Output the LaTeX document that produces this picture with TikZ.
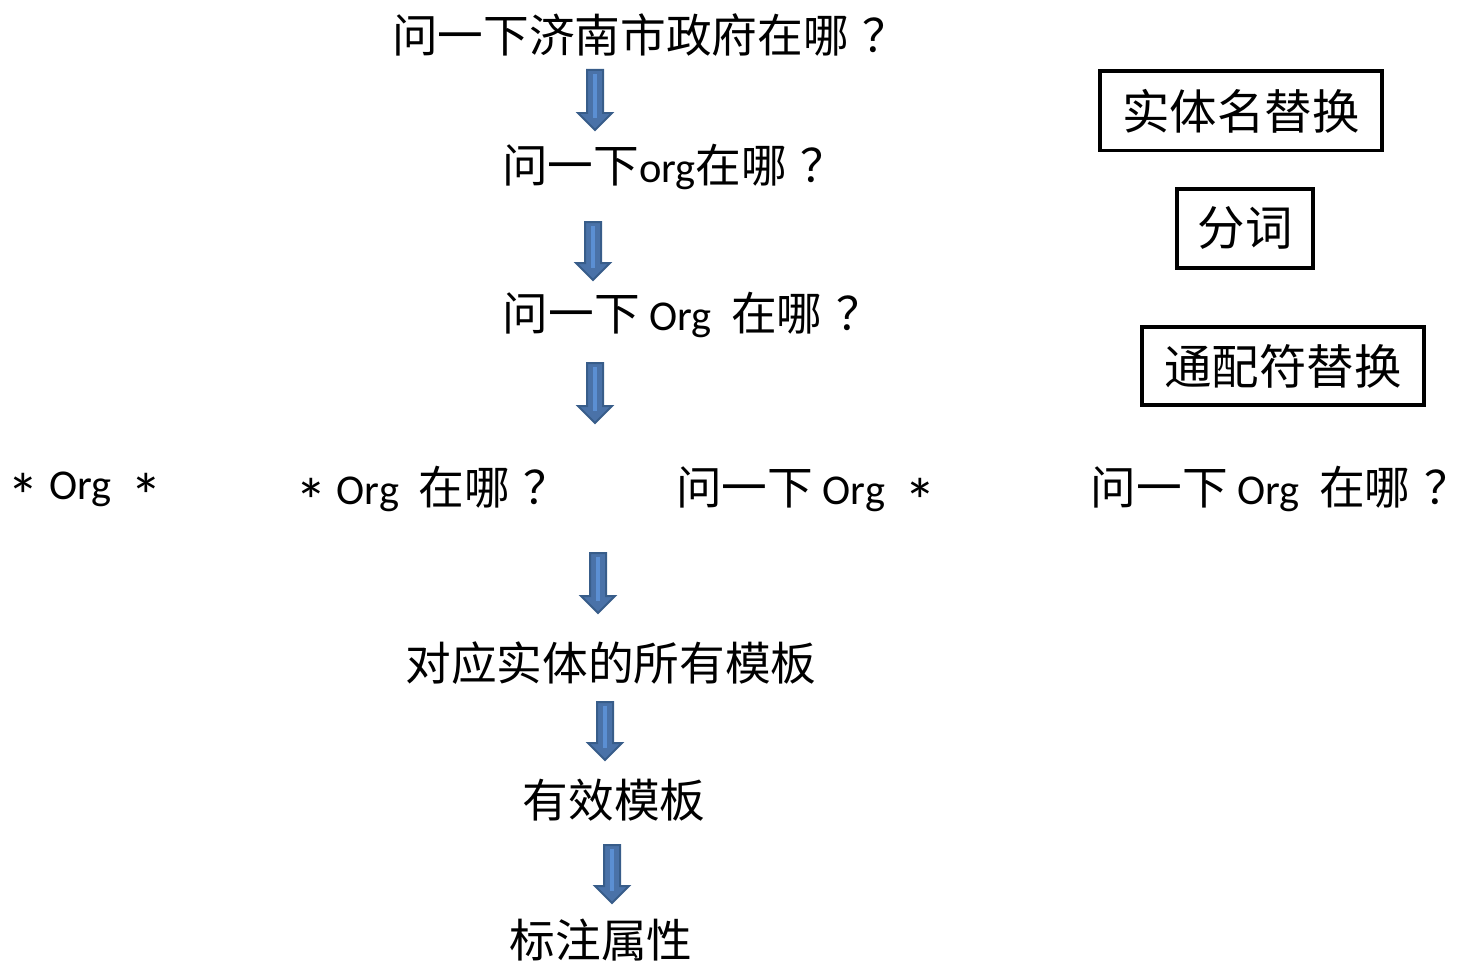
\documentclass[tikz,border=0pt]{standalone}
\usepackage{fontspec}
\setmainfont{Carlito}[Scale=0.93]
\newfontfamily\cjk{Noto Sans CJK SC}
\usepackage{graphicx}
\usepackage{tikz}
\usetikzlibrary{calc}

\definecolor{ArrowEdge}{HTML}{385D8A}
\definecolor{ArrowFill}{HTML}{4A72A8}
\definecolor{ArrowLight}{HTML}{5B8FD3}

\newcommand{\wild}{\smash{\raisebox{-0.45em}{\scalebox{1.5}{*}}}}
\newcommand{\qm}{{\cjk\kern0.3em\makebox[0.55em][l]{？}}}

\newcommand{\flowarrow}[2]{%
  \filldraw[fill=ArrowFill, draw=ArrowEdge, line width=0.04cm, line join=miter]
    ($(#1)+(-8,0)$) -- ($(#1)+(8,0)$) -- ($(#2)+(8,-17)$) -- ($(#2)+(17,-17)$)
    -- (#2) -- ($(#2)+(-17,-17)$) -- ($(#2)+(-8,-17)$) -- cycle;
  \draw[ArrowLight, line width=0.09cm] ($(#1)+(0,4)$) -- ($(#2)+(0,-12)$);
}

\begin{document}
\begin{tikzpicture}[
    x=0.02cm, y=-0.02cm,
    txt/.style={inner sep=0pt, font=\fontsize{26}{30}\selectfont},
    stepbox/.style={draw, line width=0.08cm, inner sep=0pt, font=\fontsize{27}{30}\selectfont}
]
\useasboundingbox (0,0) rectangle (1460,963);

\node[txt] (ask) at (640,35) {{\cjk 问一下济南市政府在哪}\qm};
\node[txt] (repl) at (664,167) {{\cjk 问一下}org{\cjk 在哪}\qm};
\node[txt] (seg) at (682,315) {{\cjk 问一下} Org\ \ {\cjk 在哪}\qm};

\node[txt] (wa) at (85,489) {\wild\ Org\ \ \wild};
\node[txt] (wb) at (422,489) {\wild\ Org\ \ {\cjk 在哪}\qm};
\node[txt] (wc) at (806,489) {{\cjk 问一下} Org\ \ \wild};
\node[txt] (wd) at (1270,489) {{\cjk 问一下} Org\ \ {\cjk 在哪}\qm};

\node[txt] (tpl) at (611,663) {\cjk 对应实体的所有模板};
\node[txt] (valid) at (614,800) {\cjk 有效模板};
\node[txt] (attr) at (601,940) {\cjk 标注属性};

% steps on the right
\node[stepbox, minimum width=282*0.02cm, minimum height=79*0.02cm] (entity) at (1241,111) {\cjk 实体名替换};
\node[stepbox, minimum width=136*0.02cm, minimum height=79*0.02cm] (cut) at (1245,228) {\cjk 分词};
\node[stepbox, minimum width=282*0.02cm, minimum height=78*0.02cm] (wild) at (1283,366) {\cjk 通配符替换};

\coordinate (a1) at (595,70);  \coordinate (b1) at (595,130);
\coordinate (a2) at (593,222); \coordinate (b2) at (593,280);
\coordinate (a3) at (595,363); \coordinate (b3) at (595,423);
\coordinate (a4) at (598,553); \coordinate (b4) at (598,613);
\coordinate (a5) at (605,702); \coordinate (b5) at (605,760);
\coordinate (a6) at (612,845); \coordinate (b6) at (612,903);

\flowarrow{a1}{b1}
\flowarrow{a2}{b2}
\flowarrow{a3}{b3}
\flowarrow{a4}{b4}
\flowarrow{a5}{b5}
\flowarrow{a6}{b6}

\end{tikzpicture}
\end{document}
